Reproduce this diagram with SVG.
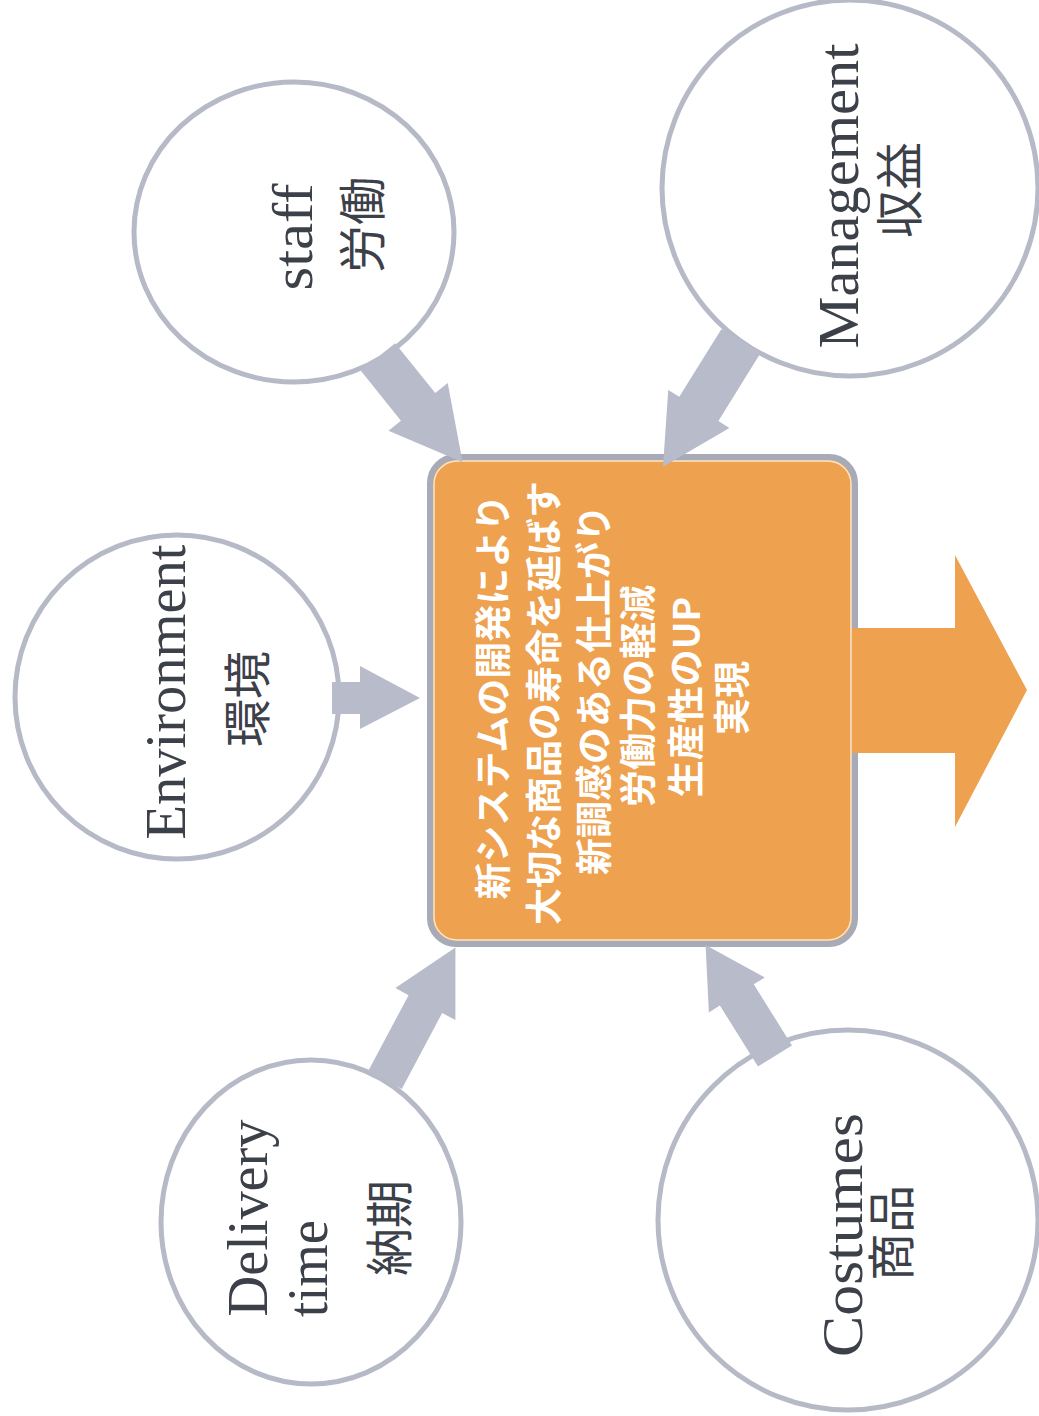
<svg xmlns="http://www.w3.org/2000/svg" width="1039" height="1416" viewBox="0 0 1039 1416">
<style>
.circ{fill:#ffffff;stroke:#b6b9c6;stroke-width:5}
.lat{font-family:"Liberation Serif","Times New Roman",serif;fill:#3c4049;font-size:56px}
.jp{font-family:"Noto Sans CJK JP","Noto Sans CJK SC",sans-serif;fill:#3c4049;font-size:48px}
.ctr{font-family:"Noto Sans CJK JP","Noto Sans CJK SC",sans-serif;fill:#ffffff;font-size:37px;font-weight:bold;text-anchor:middle}
.garr{fill:#b8bcca}
</style>
<defs>
<rect id="bg" width="1039" height="1416" fill="#ffffff"/>
</defs>
<use href="#bg"/>

<g id="node-staff">
<ellipse class="circ" cx="294" cy="232" rx="160" ry="150"/>
<text class="lat" text-anchor="middle" textLength="107" lengthAdjust="spacingAndGlyphs" transform="translate(312,237) rotate(-90)">staff</text>
<text class="jp" text-anchor="middle" transform="translate(380,225) rotate(-90)">労働</text>
</g>

<g id="node-management">
<ellipse class="circ" cx="850" cy="188" rx="188" ry="188"/>
<text class="lat" text-anchor="middle" textLength="305" lengthAdjust="spacingAndGlyphs" transform="translate(858,196) rotate(-90)">Management</text>
<text class="jp" text-anchor="middle" transform="translate(917,190) rotate(-90)">収益</text>
</g>

<g id="node-environment">
<ellipse class="circ" cx="177" cy="697" rx="162" ry="162"/>
<text class="lat" text-anchor="middle" font-size="52" textLength="295" lengthAdjust="spacingAndGlyphs" transform="translate(185,692) rotate(-90)">Environment</text>
<text class="jp" text-anchor="middle" font-size="50" transform="translate(265,699) rotate(-90)">環境</text>
</g>

<g id="node-delivery">
<ellipse class="circ" cx="311" cy="1222" rx="150" ry="162"/>
<text class="lat" text-anchor="middle" textLength="197" lengthAdjust="spacingAndGlyphs" transform="translate(267,1218) rotate(-90)">Delivery</text>
<text class="lat" text-anchor="start" textLength="97" lengthAdjust="spacingAndGlyphs" transform="translate(327,1317) rotate(-90)">time</text>
<text class="jp" text-anchor="middle" font-size="46" transform="translate(407,1228) rotate(-90)">納期</text>
</g>

<g id="node-costumes">
<ellipse class="circ" cx="848" cy="1220" rx="190" ry="190"/>
<text class="lat" text-anchor="middle" font-size="58" textLength="244" lengthAdjust="spacingAndGlyphs" transform="translate(862,1235) rotate(-90)">Costumes</text>
<text class="jp" text-anchor="middle" font-size="41" transform="translate(909,1233) rotate(-90)">商品</text>
</g>

<g id="node-center">
<rect x="430" y="457" width="425" height="487" rx="26" fill="#eea14e" stroke="#a7aab7" stroke-width="6"/>
<rect x="434" y="461" width="417" height="479" rx="23" fill="none" stroke="#f6e6d4" stroke-width="1.5"/>
<text class="ctr" transform="translate(507,697) rotate(-90)">新システムの開発により</text>
<text class="ctr" transform="translate(558,703) rotate(-90)">大切な商品の寿命を延ばす</text>
<text class="ctr" transform="translate(608,690) rotate(-90)">新調感のある仕上がり</text>
<text class="ctr" transform="translate(652,696) rotate(-90)">労働力の軽減</text>
<text class="ctr" transform="translate(700,697) rotate(-90)">生産性のUP</text>
<text class="ctr" transform="translate(746,698) rotate(-90)">実現</text>
</g>

<g id="connectors">
<polygon class="garr" points="0,-22 64,-22 64,-38 135,0 64,38 64,22 0,22" transform="translate(378,357) rotate(51.2)"/>
<polygon class="garr" points="0,-23 80,-23 80,-36 148,0 80,36 80,23 0,23" transform="translate(741,341) rotate(121.8)"/>
<polygon class="garr" points="0,-16 28,-16 28,-32 88,0 28,31 28,16 0,16" transform="translate(332,698)"/>
<polygon class="garr" points="0,-19 86,-19 86,-34 150,0 86,34 86,19 0,19" transform="translate(385,1080) rotate(-62)"/>
<polygon class="garr" points="0,-20 72,-20 72,-33 131,0 72,33 72,20 0,20" transform="translate(775,1056) rotate(-122)"/>
<polygon id="out-arrow" fill="#eea14e" points="852,628 955,628 955,555 1027,690 955,827 955,753 852,753"/>
</g>
</svg>
